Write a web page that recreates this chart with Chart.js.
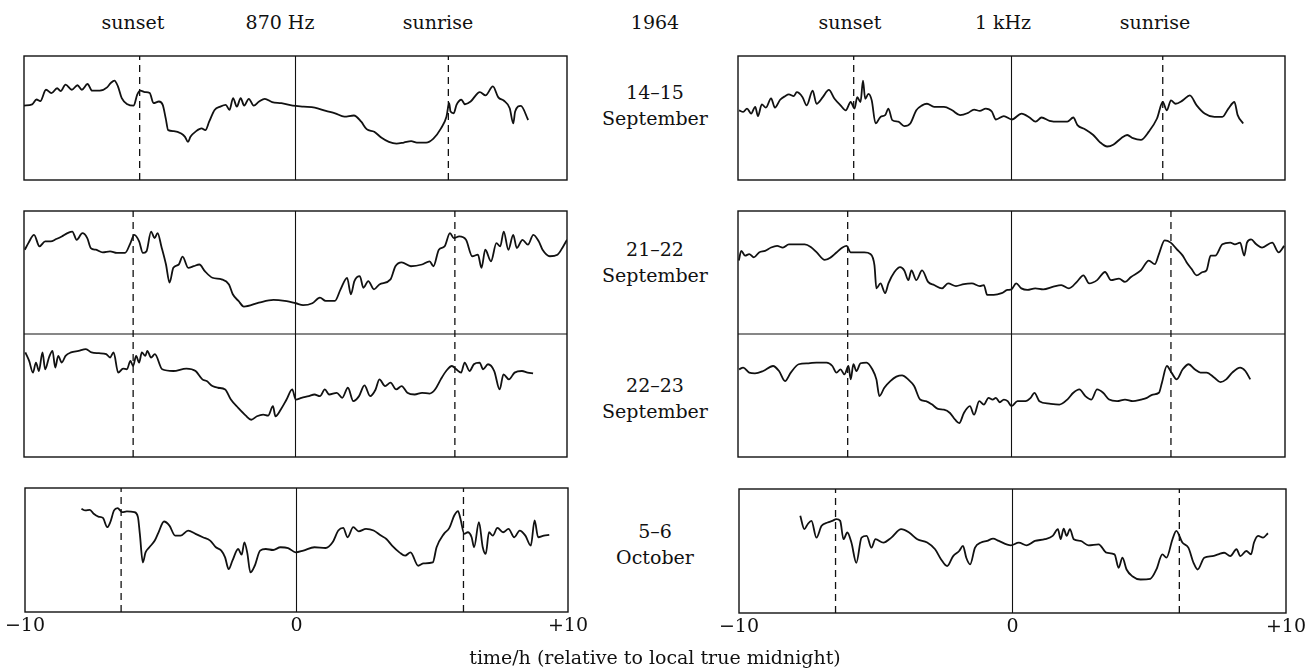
<!DOCTYPE html>
<html>
<head>
<meta charset="utf-8">
<title>Night-time field strength, 870 Hz and 1 kHz, 1964</title>
<script src="https://cdn.jsdelivr.net/npm/chart.js@4.4.1/dist/chart.umd.min.js"></script>
<style>
  body { margin: 0; background: #fff; }
  #page { position: relative; width: 1313px; height: 669px; overflow: hidden;
          font-family: "DejaVu Serif", "Liberation Serif", serif; color: #111; }
  .head { position: absolute; top: 11px; font-size: 19px; line-height: 22px; transform: translateX(-50%); white-space: nowrap; }
  .date { position: absolute; left: 655px; font-size: 19px; line-height: 26px; text-align: center; transform: translateX(-50%); white-space: nowrap; }
  .panel { position: absolute; }
  #xtitle { position: absolute; left: 655px; top: 646px; font-size: 19px; line-height: 22px; transform: translateX(-50%); white-space: nowrap; }
</style>
</head>
<body>
<div id="page">
  <div class="head" style="left:133px">sunset</div>
  <div class="head" style="left:280px">870 Hz</div>
  <div class="head" style="left:438px">sunrise</div>
  <div class="head" style="left:655px">1964</div>
  <div class="head" style="left:850px">sunset</div>
  <div class="head" style="left:1003px">1 kHz</div>
  <div class="head" style="left:1155px">sunrise</div>

  <div class="date" style="top:79px">14–15<br>September</div>
  <div class="date" style="top:236px">21–22<br>September</div>
  <div class="date" style="top:372px">22–23<br>September</div>
  <div class="date" style="top:518px">5–6<br>October</div>

  <canvas id="left1" class="panel" style="left:-6px;top:50px" width="603" height="136"></canvas>
  <canvas id="left2" class="panel" style="left:-6px;top:205px" width="603" height="258"></canvas>
  <canvas id="left3" class="panel" style="left:-5px;top:482px" width="603" height="166"></canvas>
  <canvas id="right1" class="panel" style="left:708px;top:50px" width="607" height="136"></canvas>
  <canvas id="right2" class="panel" style="left:708px;top:205px" width="607" height="258"></canvas>
  <canvas id="right3" class="panel" style="left:709px;top:483px" width="607" height="166"></canvas>

  <div id="xtitle">time/h (relative to local true midnight)</div>
</div>

<script>
// x axis ticks (hours from local true midnight)
var xTicks = [-10, 0, 10];
var xTickLabels = ['\u221210', '0', '+10'];

// sunset / sunrise (h) for the three boxes of each column
var sunset870 = [-5.74, -5.98, -6.46];
var sunrise870 = [5.63, 5.87, 6.15];
var sunset1k = [-5.77, -5.99, -6.47];
var sunrise1k = [5.53, 5.83, 6.1];

// 870 Hz, 14-15 September (value = % of panel height)
var t870_1415 = [-10,-9.7,-9.54,-9.4,-9.19,-8.99,-8.78,-8.65,-8.47,-8.24,
  -8.03,-7.87,-7.66,-7.49,-7.21,-6.94,-6.8,-6.67,-6.54,-6.4,
  -6.19,-5.96,-5.83,-5.71,-5.55,-5.37,-5.23,-5.03,-4.89,-4.78,
  -4.69,-4.48,-4.21,-4.07,-3.96,-3.87,-3.66,-3.46,-3.32,-3.18,
  -2.98,-2.77,-2.57,-2.43,-2.3,-2.16,-2.02,-1.89,-1.72,-1.54,
  -1.34,-1.13,-0.86,-0.52,-0.1,0.3,0.71,1.12,1.46,1.8,
  2.15,2.42,2.62,2.9,3.17,3.44,3.72,3.99,4.26,4.47,
  4.81,5.08,5.36,5.56,5.66,5.71,5.83,5.93,6.11,6.24,
  6.45,6.79,7,7.27,7.47,7.68,7.89,8.02,8.09,8.3,
  8.57];
var v870_1415 = [60,61,64.9,63.6,72.8,70,74,71.7,76.9,72.8,
  76.4,72.8,77.4,72,72,74.7,78.3,80.2,75.5,66,
  61.1,60,68.8,72,70.9,70.1,62,63.3,60.6,49.7,
  40.2,39.4,37.5,34.8,30.7,34.8,39.4,41.6,40.2,47,
  56.5,59.2,60.6,56.5,66,59.2,66,60,65.5,60,
  63.3,65.5,62.8,62,60,59.2,58.4,55.7,53.8,51.1,
  52,47,41,38.9,34,30.7,29.3,30.2,31.3,30.2,
  30.2,33.4,41.6,51,62,55.2,53.8,60.6,64.7,61.1,
  63.3,70.9,68.2,75.5,66.6,63.9,57.9,45.7,55.2,59.8,
  48.4];

// 870 Hz, 21-22 September
var t870_2122 = [-9.97,-9.84,-9.63,-9.43,-9.22,-9.02,-8.81,-8.61,-8.4,-8.22,
  -8.06,-7.85,-7.67,-7.54,-7.35,-7.1,-6.83,-6.58,-6.28,-6.08,
  -5.94,-5.76,-5.62,-5.49,-5.32,-5.19,-5.08,-4.94,-4.77,-4.64,
  -4.5,-4.3,-4.16,-3.95,-3.75,-3.54,-3.34,-3.06,-2.72,-2.45,
  -2.31,-2.1,-1.9,-1.35,-0.81,-0.4,0.01,0.28,0.62,0.9,
  1.11,1.45,1.66,1.9,2.04,2.17,2.37,2.5,2.68,2.89,
  3.09,3.5,3.68,3.91,4.25,4.66,4.94,5.08,5.28,5.49,
  5.69,5.83,6.03,6.28,6.51,6.72,6.85,6.99,7.2,7.4,
  7.54,7.67,7.84,8.02,8.15,8.36,8.56,8.76,8.96,9.1,
  9.37,9.65,9.86,10];
var v870_2122 = [68.5,73.9,80.6,71.2,75.3,75.3,77.2,79.3,82,83.3,
  76.6,82,78,69.9,68.5,66.4,67.2,65.9,65.9,73.9,
  80.6,75.3,65.9,67.2,83.3,78,82,71.2,56.5,41.7,
  53.8,56.5,62.9,53.8,55.1,56.5,51.1,45.7,44.4,40.3,
  32.3,26.9,22.3,25.5,27.7,26.9,25,23.4,25,29.6,
  26.9,26.9,36.3,45.7,32.3,43,47,37.6,43,36.3,
  40.3,44.4,55.1,58.3,55.1,56.5,59.1,55.1,68.5,71.2,
  82,78,79.3,76.6,63.2,64.5,53.8,68.5,59.1,73.9,
  71.2,83.3,68.5,80.6,69.9,76.6,72.6,80.6,75.3,68.5,
  63.2,64.5,71.2,76.6];

// 870 Hz, 22-23 September
var t870_2223 = [-9.95,-9.81,-9.67,-9.56,-9.45,-9.32,-9.22,-9.08,-8.95,-8.85,
  -8.74,-8.61,-8.47,-8.27,-7.99,-7.72,-7.51,-7.24,-6.97,-6.83,
  -6.7,-6.53,-6.35,-6.21,-6.08,-5.98,-5.87,-5.76,-5.66,-5.53,
  -5.46,-5.32,-5.18,-4.91,-4.5,-4.02,-3.68,-3.43,-3.27,-3.06,
  -2.86,-2.59,-2.38,-2.11,-1.83,-1.63,-1.42,-1.19,-1.01,-0.83,
  -0.74,-0.53,-0.33,-0.12,0.01,0.22,0.49,0.7,0.9,1.08,
  1.24,1.52,1.72,1.93,2.13,2.34,2.54,2.75,2.95,3.09,
  3.3,3.5,3.71,3.91,4.12,4.39,4.66,4.94,5.14,5.35,
  5.55,5.76,5.92,6.1,6.23,6.41,6.57,6.78,6.91,7.09,
  7.32,7.52,7.66,7.86,8.07,8.34,8.55,8.75];
var v870_2223 = [85,78.1,68.6,76.8,69.9,85,71.3,80.9,86.3,72.7,
  82.2,76.8,82.2,85,86.3,87.7,85,84.4,83.6,80.9,
  85,68.6,71.9,71.3,78.1,74,82.2,76.8,85,82.2,
  86.3,80.9,83.6,71.3,69.9,71.9,69.9,63.1,61.7,57.7,
  56.3,54.9,46.7,39.9,33.6,30.3,33.1,34.4,33.6,41.3,
  33.1,39.1,46.7,54.9,46.7,48.1,49.5,50.8,49.5,54.9,
  50.8,52.2,48.1,56.3,45.4,49.5,58.2,49.5,54.9,63.1,
  57.7,60.4,54.9,57.7,52.2,50.8,52.2,51.6,54.9,63.1,
  69.9,74,71.3,68.6,76.8,69.9,75.4,76.8,71.3,75.4,
  69.9,54.9,67.2,63.1,68.6,69.9,68.6,68];

// 870 Hz, 5-6 October
var t870_0506 = [-7.92,-7.78,-7.61,-7.47,-7.3,-7.13,-6.97,-6.86,-6.72,-6.59,
  -6.42,-6.25,-5.97,-5.84,-5.77,-5.66,-5.56,-5.42,-5.22,-5.08,
  -4.88,-4.68,-4.47,-4.27,-3.99,-3.72,-3.45,-3.18,-2.97,-2.77,
  -2.63,-2.5,-2.36,-2.15,-2.02,-1.92,-1.81,-1.7,-1.54,-1.34,
  -1.13,-0.86,-0.59,-0.31,-0.03,0.25,0.66,1.07,1.33,1.54,
  1.72,1.88,2.09,2.29,2.56,2.84,3.11,3.31,3.52,3.79,
  4,4.2,4.48,4.68,5.02,5.16,5.43,5.63,5.81,5.95,
  6.04,6.18,6.31,6.45,6.54,6.72,6.86,6.97,7.09,7.23,
  7.4,7.61,7.81,8.02,8.22,8.43,8.63,8.77,8.9,9.11,
  9.31];
var v870_0506 = [83.2,81.9,82.4,79.2,77,75.9,68.4,72.4,81.9,83.8,
  80.5,81.1,80.5,76.5,63,40,48.1,52.2,57.6,64.3,
  73,69.7,61.6,61.6,65.7,63,60.3,57.6,52.2,49.5,
  44.1,34.6,41.4,50.8,46.2,56.2,47.3,31.9,37.3,49.5,
  50.8,50,52.2,51.6,48.1,49.5,52.2,51.6,56.2,65.7,
  67.8,60.3,68.4,65.1,67,65.7,61.6,58.9,53.5,48.1,
  45.4,48.1,37.3,39.2,40,52.2,63,67.8,77.8,81.4,
  75.1,63,64.3,60.3,52.2,72.4,52.2,46.8,64.3,61.6,
  67.8,64.3,67,60.3,65.7,61.6,53.5,73.8,60.3,61.6,
  62.2];

// 1 kHz, 14-15 September
var t1k_1415 = [-9.96,-9.81,-9.67,-9.52,-9.37,-9.27,-9.13,-8.98,-8.79,-8.65,
  -8.46,-8.28,-8.14,-7.96,-7.85,-7.64,-7.49,-7.27,-7.13,-6.9,
  -6.68,-6.47,-6.25,-6.06,-5.88,-5.74,-5.64,-5.52,-5.43,-5.35,
  -5.23,-5.11,-4.97,-4.79,-4.62,-4.5,-4.36,-4.14,-3.92,-3.7,
  -3.48,-3.27,-3.09,-2.83,-2.47,-2.17,-1.88,-1.59,-1.37,-1.16,
  -0.94,-0.72,-0.57,-0.28,0.01,0.37,0.66,0.88,1.1,1.39,
  1.75,2.04,2.26,2.41,2.7,2.99,3.21,3.5,3.72,4.01,
  4.23,4.44,4.73,5.02,5.32,5.53,5.68,5.83,6,6.26,
  6.52,6.77,7.06,7.42,7.71,7.93,8.15,8.27,8.47];
var v1k_1415 = [56.2,54.9,57.6,53.6,59,51.5,61,58.4,65.8,58.4,
  64.7,67.6,69,67.6,70.8,66.8,60.2,72.1,61.5,66.8,
  72.7,65.5,60.2,56.2,62.9,57.6,66.8,62.9,80.1,65.5,
  69.5,64.2,45.6,50.9,52.3,57.6,48.3,47,43.5,45.6,
  56.2,60.2,61.5,58.9,58.9,56.2,52.3,54.1,56.8,55.7,
  57.6,55.2,48.8,51.5,48.8,53.6,50.4,47,50.4,47.7,
  47,47,50.4,44.3,40.8,36.3,31,27,28.4,33.7,
  36.3,33.7,32.4,39,49.6,62.9,56.2,64.2,61.5,64.2,
  68.2,60.2,53.6,50.9,50.9,57.6,62.9,52.3,45.6];

// 1 kHz, 21-22 September
var t1k_2122 = [-9.97,-9.88,-9.74,-9.59,-9.42,-9.23,-9.01,-8.79,-8.57,-8.36,
  -8.14,-7.85,-7.56,-7.34,-7.12,-6.83,-6.61,-6.4,-6.18,-6.03,
  -5.88,-5.67,-5.38,-5.16,-5.01,-4.94,-4.79,-4.62,-4.5,-4.28,
  -4.07,-3.92,-3.77,-3.66,-3.48,-3.27,-3.05,-2.83,-2.54,-2.32,
  -2.03,-1.74,-1.45,-1.16,-1.01,-0.89,-0.65,-0.36,-0.15,0,
  0.17,0.36,0.58,0.87,1.16,1.53,1.82,2.1,2.39,2.63,
  2.84,3.13,3.42,3.64,3.93,4.15,4.37,4.73,5.02,5.24,
  5.39,5.6,5.82,6.04,6.26,6.4,6.58,6.77,6.99,7.13,
  7.28,7.45,7.71,8,8.17,8.36,8.51,8.61,8.76,8.95,
  9.16,9.53,9.77,9.97];
var v1k_2122 = [59.7,67.6,63.7,65,62.3,66.3,67.6,70.3,71.6,70.3,
  72.9,72.9,72.9,70.8,66.3,60.2,62.3,66.3,70.3,71.6,
  66.3,66.3,66.3,65,55.7,37.1,41.1,33.2,41.1,50.4,
  54.4,51.7,43.8,51.7,43.8,51.7,42.4,39.8,37.1,41.1,
  39,40.6,41.1,39,39.8,31.8,31.8,33.2,35.8,36.3,
  41.1,37.1,35.8,37.1,36.3,38.5,39.8,37.1,42.4,47.7,
  41.1,43.8,50.4,43.8,45.1,42.4,46.4,51.7,59.7,56.8,
  65,76.1,74.3,69,63.7,58.4,53,47.7,50.4,51.7,
  63.7,63.7,72.9,74.3,72.9,74.3,63.7,74.3,76.9,72.9,
  70.3,74.3,66.3,71.6];

// 1 kHz, 22-23 September
var t1k_2223 = [-9.96,-9.81,-9.59,-9.38,-9.08,-8.72,-8.5,-8.28,-8.07,-7.78,
  -7.42,-7.13,-6.76,-6.55,-6.4,-6.25,-6.11,-5.96,-5.88,-5.78,
  -5.67,-5.52,-5.3,-5.09,-4.94,-4.83,-4.65,-4.43,-4.21,-4,
  -3.78,-3.56,-3.34,-3.13,-2.9,-2.69,-2.47,-2.25,-2.06,-1.91,
  -1.74,-1.52,-1.37,-1.18,-1.01,-0.84,-0.69,-0.57,-0.43,-0.28,
  -0.14,0,0.22,0.51,0.7,0.84,1.02,1.38,1.75,2.04,
  2.26,2.48,2.7,2.92,3.13,3.35,3.57,3.86,4.15,4.44,
  4.73,4.95,5.17,5.39,5.5,5.68,5.85,6.04,6.26,6.48,
  6.7,6.91,7.13,7.42,7.64,7.85,8.07,8.36,8.55,8.73];
var v1k_2223 = [71.3,72.7,68.6,68,69.9,74,69.9,61.7,68.6,75.4,
  76.2,76.8,76.8,74,68.6,71.3,67.2,74,63.1,75.4,
  69.9,76.2,76.8,71.3,63.1,49.5,56.3,61.7,65.3,66.4,
  63.1,57.7,46.7,45.4,42.6,39.1,38.5,35.8,30.3,27.6,
  35.8,41.3,34.4,45.4,42.6,48.1,46.7,48.1,44.5,46.7,
  45.4,41.3,45.4,45.4,48.1,52.2,45.4,43.4,42.6,46.7,
  52.2,54.9,49.5,46.7,54.9,52.2,46.7,45.4,46.7,45.4,
  46.7,48.1,50.8,52.2,60.4,74,68.6,63.1,71.3,75.4,
  71.3,68.6,68.6,64.5,60.9,63.1,68.6,72.7,69.9,63.1];

// 1 kHz, 5-6 October
var t1k_0506 = [-7.76,-7.61,-7.49,-7.35,-7.17,-6.98,-6.76,-6.59,-6.44,-6.3,
  -6.18,-6.04,-5.89,-5.71,-5.52,-5.33,-5.16,-5.01,-4.72,-4.43,
  -4.07,-3.78,-3.48,-3.12,-2.83,-2.61,-2.39,-2.17,-1.95,-1.81,
  -1.69,-1.55,-1.37,-1.15,-0.93,-0.71,-0.5,-0.06,0.23,0.52,
  0.82,1.18,1.47,1.66,1.76,1.87,1.98,2.1,2.24,2.49,
  2.78,3.15,3.44,3.73,3.88,4.02,4.17,4.38,4.68,5.04,
  5.26,5.48,5.63,5.85,5.99,6.21,6.43,6.62,6.77,7.01,
  7.3,7.52,7.74,7.96,8.19,8.33,8.55,8.72,8.83,8.98,
  9.16,9.34];
var v1k_0506 = [78.4,67.6,71.6,74.3,60.8,70.3,73,74.3,75.7,74.3,
  59.5,64.9,56.8,40.5,60.8,62.2,52.7,59.5,56.8,60.8,
  67.6,64.9,59.5,56.8,51.4,43.2,37.8,45.9,50,54.1,
  44.6,39.2,52.7,56.8,58.1,60,58.1,54.6,56.8,54.6,
  58.1,59.5,62.2,67.6,59.5,68.1,62.2,67.6,59.5,58.1,
  54.6,55.4,48.6,47.3,36.5,44.6,35.1,29.7,27,27.6,
  35.1,47.3,44.6,59.5,66.2,56.8,52.7,40.5,35.1,44.6,
  45.9,47.3,48.6,45.9,51.4,45.9,50,47.3,56.8,62.2,
  60.8,64.3];

var ink = '#111';

// Box round each panel
var framePlugin = {
	id: 'frame',
	afterDatasetsDraw: function (chart) {
		var a = chart.chartArea;
		var ctx = chart.ctx;
		ctx.save();
		ctx.strokeStyle = ink;
		ctx.lineWidth = 1.4;
		ctx.strokeRect(a.left, a.top, a.right - a.left, a.bottom - a.top);
		ctx.restore();
	}
};

// vertical marker: midnight (solid) or sunset/sunrise (dashed)
function vline(x, ymax, dashed) {
	return {
		data: [{x: x, y: 0}, {x: x, y: ymax}],
		borderColor: ink,
		borderWidth: dashed ? 1.3 : 1.1,
		borderDash: dashed ? [7, 5] : [],
		pointRadius: 0,
		tension: 0
	};
}

// divider between the two nights sharing a box
function hline(y) {
	return {
		data: [{x: -10, y: y}, {x: 10, y: y}],
		borderColor: ink,
		borderWidth: 1.1,
		pointRadius: 0,
		tension: 0
	};
}

function trace(hours, values, offset) {
	return {
		data: hours.map((h, i) => ({x: h, y: values[i] + offset})),
		borderColor: ink,
		borderWidth: 1.8,
		pointRadius: 0,
		cubicInterpolationMode: 'monotone'
	};
}

function createPanel(id, datasets, ymax, bottomAxis) {
	var xScale = {
		type: 'linear',
		min: -10,
		max: 10,
		display: bottomAxis,
		grid: { display: false, drawTicks: false },
		border: { display: false },
		ticks: {
			stepSize: 10,
			autoSkip: false,
			maxRotation: 0,
			padding: 3,
			color: ink,
			font: { family: 'DejaVu Serif', size: 19 },
			callback: function (v) { return xTickLabels[xTicks.indexOf(v)]; }
		}
	};
	// only the bottom row keeps room for the tick labels
	if (bottomAxis) {
		xScale.afterFit = function (scale) { scale.height = 36; };
	}

	return new Chart(document.getElementById(id), {
		type: 'line',
		data: { datasets: datasets },
		options: {
			responsive: false,
			animation: false,
			events: [],
			// side padding wider than half a tick label, so the box does not move
			layout: { padding: { left: 30, right: 30, top: 6, bottom: bottomAxis ? 0 : 6 } },
			plugins: { legend: { display: false }, tooltip: { enabled: false } },
			scales: {
				x: xScale,
				y: { min: 0, max: ymax, display: false }
			}
		},
		plugins: [framePlugin]
	});
}

// 870 Hz column
createPanel('left1', [
	vline(0, 100, false), vline(sunset870[0], 100, true), vline(sunrise870[0], 100, true),
	trace(t870_1415, v870_1415, 0)
], 100, false);
createPanel('left2', [
	vline(0, 200, false), vline(sunset870[1], 200, true), vline(sunrise870[1], 200, true), hline(100),
	trace(t870_2122, v870_2122, 100), trace(t870_2223, v870_2223, 0)
], 200, false);
createPanel('left3', [
	vline(0, 100, false), vline(sunset870[2], 100, true), vline(sunrise870[2], 100, true),
	trace(t870_0506, v870_0506, 0)
], 100, true);

// 1 kHz column
createPanel('right1', [
	vline(0, 100, false), vline(sunset1k[0], 100, true), vline(sunrise1k[0], 100, true),
	trace(t1k_1415, v1k_1415, 0)
], 100, false);
createPanel('right2', [
	vline(0, 200, false), vline(sunset1k[1], 200, true), vline(sunrise1k[1], 200, true), hline(100),
	trace(t1k_2122, v1k_2122, 100), trace(t1k_2223, v1k_2223, 0)
], 200, false);
createPanel('right3', [
	vline(0, 100, false), vline(sunset1k[2], 100, true), vline(sunrise1k[2], 100, true),
	trace(t1k_0506, v1k_0506, 0)
], 100, true);
</script>
</body>
</html>
